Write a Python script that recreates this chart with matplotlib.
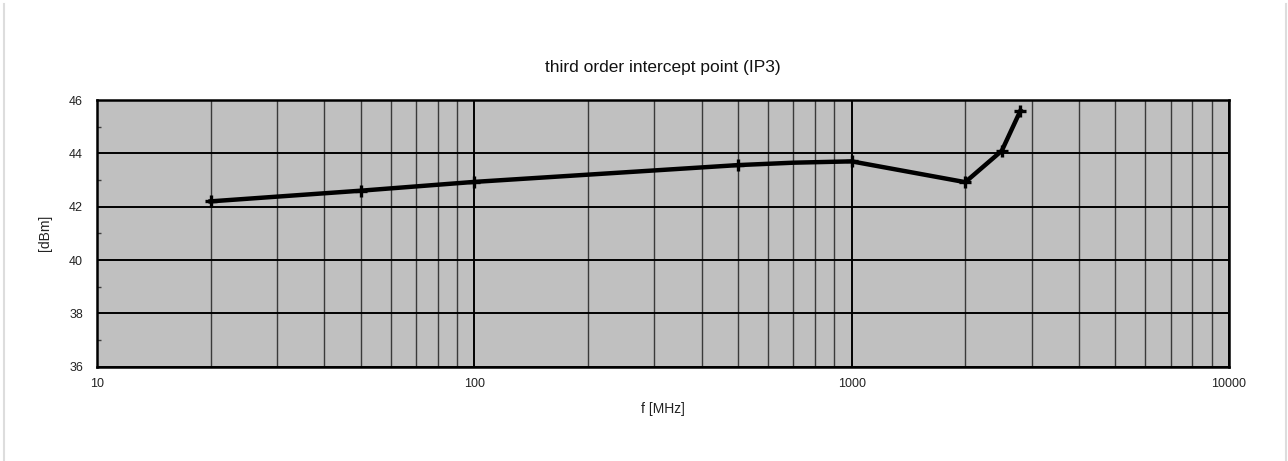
import matplotlib
matplotlib.use("Agg")
import matplotlib.pyplot as plt
from matplotlib.ticker import LogLocator, FixedLocator, NullFormatter, FuncFormatter
from matplotlib.lines import Line2D

plt.rcParams["font.family"] = ["Liberation Sans", "DejaVu Sans"]

freq_mhz = [20, 50, 100, 500, 700, 1000, 2000, 2500, 2800]
ip3_dbm = [42.2, 42.6, 42.93, 43.56, 43.65, 43.7, 42.92, 44.1, 45.6]
marker_idx = [0, 1, 2, 3, 5, 6, 7, 8]
x_ticks = [10, 100, 1000, 10000]
y_ticks = [36, 38, 40, 42, 44, 46]

fig = plt.figure(figsize=(12.88, 4.61), dpi=100)
ax = fig.add_axes([0.0753, 0.2046, 0.8789, 0.5784])
ax.set_facecolor("#C0C0C0")
ax.set_xscale("log")
ax.set_xlim(10, 10000)
ax.set_ylim(36, 46)

ax.xaxis.set_major_locator(FixedLocator(x_ticks))
ax.xaxis.set_minor_locator(LogLocator(base=10, subs=range(2, 10)))
ax.xaxis.set_major_formatter(FuncFormatter(lambda v, p: f"{int(v)}"))
ax.xaxis.set_minor_formatter(NullFormatter())
ax.yaxis.set_major_locator(FixedLocator(y_ticks))
ax.yaxis.set_minor_locator(FixedLocator([37, 39, 41, 43, 45]))

ax.grid(which="major", axis="x", color="black", linewidth=1.4)
ax.grid(which="minor", axis="x", color="#3a3a3a", linewidth=1.0)
ax.grid(which="major", axis="y", color="black", linewidth=1.4)

ax.tick_params(axis="both", which="major", length=0, labelsize=9, colors="#222222")
ax.tick_params(axis="x", which="major", pad=8)
ax.tick_params(axis="y", which="major", pad=10)
ax.tick_params(axis="x", which="minor", length=0)
ax.tick_params(axis="y", which="minor", direction="in", length=3, width=1, color="#404040")

for s in ax.spines.values():
    s.set_linewidth(1.8)
    s.set_color("black")

ax.plot(freq_mhz, ip3_dbm, color="black", linewidth=3.2, marker="+",
        markersize=8, markeredgewidth=2.4, markevery=marker_idx, zorder=5)

ax.set_title("third order intercept point (IP3)", fontsize=12.5, pad=20, color="#111111")
ax.set_xlabel("f [MHz]", fontsize=10, labelpad=9, color="#222222")
ax.set_ylabel("[dBm]", fontsize=10, labelpad=12, color="#222222")

# light grey outer frame edges
fig.add_artist(Line2D([3.5/1288, 3.5/1288], [0, 1 - 4/461], transform=fig.transFigure,
                      color="#DDDDDD", linewidth=1.5))
fig.add_artist(Line2D([1285.5/1288, 1285.5/1288], [0, 1 - 4/461], transform=fig.transFigure,
                      color="#DDDDDD", linewidth=1.5))

fig.savefig("out.png", dpi=100)
